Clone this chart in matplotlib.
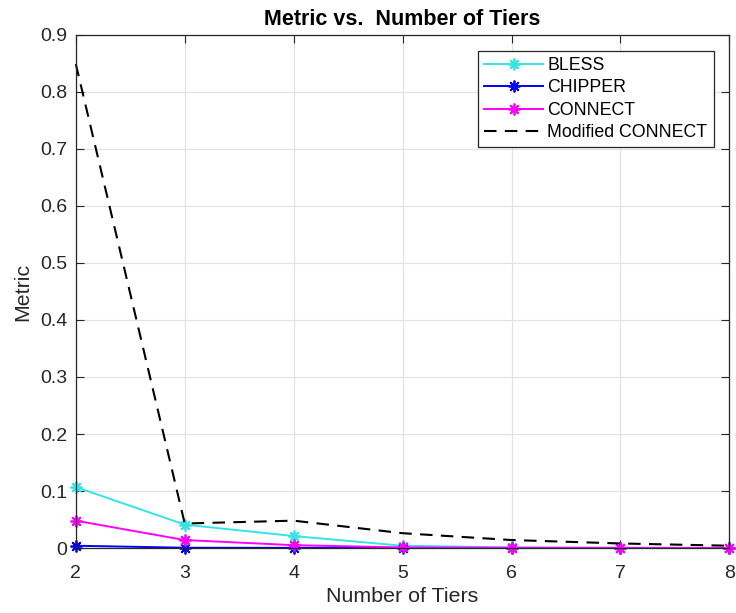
import matplotlib
matplotlib.use("Agg")
import matplotlib.pyplot as plt

plt.rcParams['font.family'] = ['Liberation Sans', 'DejaVu Sans']

tiers = [2, 3, 4, 5, 6, 7, 8]
bless = [0.107, 0.041, 0.021, 0.004, 0.001, 0.0005, 0.0002]
chipper = [0.004, 0.0005, 0.0003, 0.0002, 0.0001, 0.0001, 0.0001]
connect = [0.048, 0.014, 0.005, 0.001, 0.0005, 0.0002, 0.0001]
modified_connect = [0.849, 0.043, 0.048, 0.026, 0.014, 0.008, 0.004]

x_ticks = [2, 3, 4, 5, 6, 7, 8]
y_ticks = [0, 0.1, 0.2, 0.3, 0.4, 0.5, 0.6, 0.7, 0.8, 0.9]
y_tick_labels = ['0', '0.1', '0.2', '0.3', '0.4', '0.5', '0.6', '0.7', '0.8', '0.9']

INK = '#262626'

fig = plt.figure(figsize=(7.36, 6.13), dpi=100)
ax = fig.add_axes([0.103, 0.106, 0.888, 0.837])

asterisk = (8, 2, 0)
common = dict(marker=asterisk, markersize=8.5, lw=1.4, clip_on=False, markeredgewidth=1.3)
ax.plot(tiers, bless, color='#33e6e6', label='BLESS', **common)
ax.plot(tiers, chipper, color='#0000ff', label='CHIPPER', **common)
ax.plot(tiers, connect, color='#ff00ff', label='CONNECT', **common)
ax.plot(tiers, modified_connect, color='black', ls=(0, (6, 4)), lw=1.5,
        label='Modified CONNECT', clip_on=False)

ax.set_xlim(2, 8)
ax.set_ylim(0, 0.9)
ax.set_xticks(x_ticks)
ax.set_yticks(y_ticks)
ax.set_yticklabels(y_tick_labels)
ax.grid(True, color='#e3e3e3', lw=0.9)
ax.set_axisbelow(True)
ax.tick_params(direction='in', top=True, right=True, labelsize=14, colors=INK, length=6)
ax.tick_params(axis='x', pad=12)
ax.tick_params(axis='y', pad=6)
for s in ax.spines.values():
    s.set_color(INK)
    s.set_linewidth(0.9)

ax.set_title('Metric vs.  Number of Tiers', fontsize=15.5, fontweight='bold', pad=7)
ax.set_xlabel('Number of Tiers', fontsize=15.4, color=INK, labelpad=4)
ax.set_ylabel('Metric', fontsize=15.4, color=INK, labelpad=6)

leg = ax.legend(loc='upper right', bbox_to_anchor=(0.976, 0.969), fontsize=12.8,
                fancybox=False, edgecolor=INK, framealpha=1,
                handlelength=3.3, handletextpad=0.25, borderpad=0.35, labelspacing=0.3,
                borderaxespad=0)
leg.get_frame().set_linewidth(0.9)

fig.savefig('out.png', dpi=100)
